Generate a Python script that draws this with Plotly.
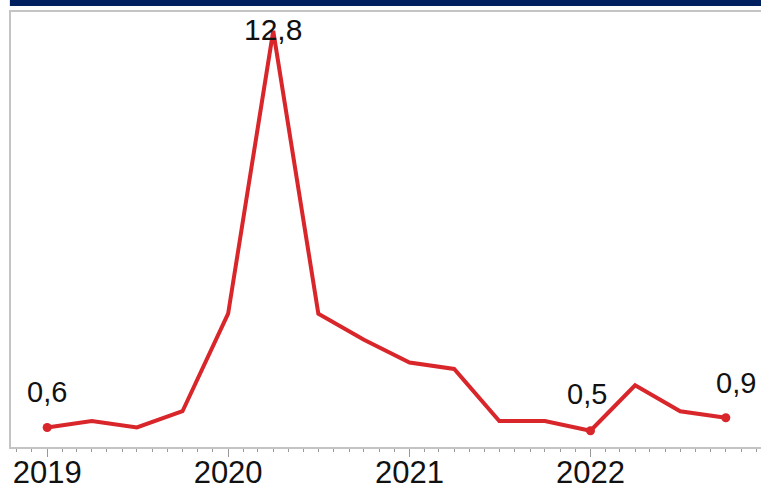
import plotly.graph_objects as go

# Data (quarterly)
quarters = ["2019-01-01", "2019-04-01", "2019-07-01", "2019-10-01",
            "2020-01-01", "2020-04-01", "2020-07-01", "2020-10-01",
            "2021-01-01", "2021-04-01", "2021-07-01", "2021-10-01",
            "2022-01-01", "2022-04-01", "2022-07-01", "2022-10-01"]
values = [0.6, 0.8, 0.6, 1.1,
          4.1, 12.8, 4.1, 3.3,
          2.6, 2.4, 0.8, 0.8,
          0.5, 1.9, 1.1, 0.9]
labelled_idx = [0, 5, 12, 15]
tick_years = ["2019-01-01", "2020-01-01", "2021-01-01", "2022-01-01"]
tick_text = ["2019", "2020", "2021", "2022"]

RED = "#D8262B"
NAVY = "#002060"
GRAY = "#C4C4C4"
FONT = "Liberation Sans, Arial, sans-serif"

fig = go.Figure()
fig.add_trace(go.Scatter(
    x=quarters, y=values, mode="lines",
    line=dict(color=RED, width=4), hoverinfo="skip", showlegend=False))
fig.add_trace(go.Scatter(
    x=[quarters[i] for i in labelled_idx if i != 5],
    y=[values[i] for i in labelled_idx if i != 5],
    mode="markers", marker=dict(color=RED, size=9),
    hoverinfo="skip", showlegend=False))

for i in labelled_idx:
    txt = f"{values[i]:.1f}".replace(".", ",")
    if i == 5:
        fig.add_annotation(x=quarters[i], y=values[i], text=txt, showarrow=False,
                           yanchor="middle", yshift=1, xshift=0,
                           font=dict(family=FONT, size=30, color="#111111"))
    else:
        fig.add_annotation(x=quarters[i], y=values[i], text=txt, showarrow=False,
                           yanchor="bottom",
                           yshift=19 if i == 12 else 17,
                           xshift=10 if i == len(values) - 1 else (-3 if i == 12 else 0),
                           font=dict(family=FONT, size=29, color="#111111"))

# navy header bar (cut off at top)
fig.add_shape(type="rect", xref="paper", yref="paper",
              x0=-0.0015, x1=1.01, y0=1 + 6 / 435, y1=1.05,
              fillcolor=NAVY, line=dict(width=0), layer="above")

fig.update_layout(
    width=761, height=488,
    margin=dict(l=11, r=0, t=12, b=41),
    paper_bgcolor="white", plot_bgcolor="white",
    font=dict(family=FONT, color="#111111"),
    xaxis=dict(
        type="date", range=["2018-10-20", "2022-12-11"], automargin=False,
        tickvals=tick_years, ticktext=tick_text,
        ticks="outside", ticklen=8, tickwidth=1, tickcolor="#999999",
        ticklabelstandoff=-11,
        showline=True, linecolor=GRAY, linewidth=2, mirror=True,
        showgrid=False, zeroline=False,
        tickfont=dict(family=FONT, size=31, color="#111111"),
        minor=dict(ticks="outside", ticklen=3, tickcolor="#999999",
                   dtick="M1", tick0="2019-01-01", showgrid=False),
    ),
    yaxis=dict(
        range=[0, 13.38], showticklabels=False, ticks="", automargin=False,
        showgrid=False, zeroline=False,
        showline=True, linecolor=GRAY, linewidth=2,
    ),
)

fig.write_html("out.html")
